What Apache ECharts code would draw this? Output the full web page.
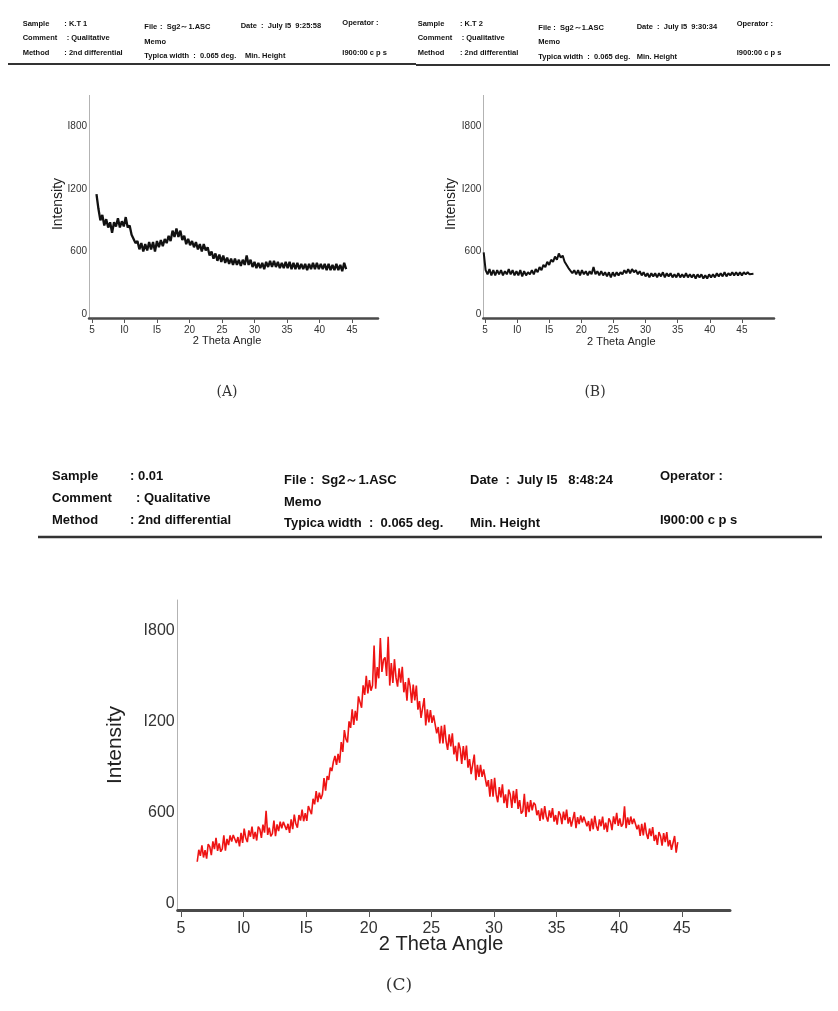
<!DOCTYPE html>
<html>
<head>
<meta charset="utf-8">
<script src="https://cdn.jsdelivr.net/npm/echarts@6/dist/echarts.min.js"></script>
<style>
  html, body { margin: 0; padding: 0; background: #fff; }
  #chart { width: 838px; height: 1011px; }
</style>
</head>
<body>
<div id="chart"></div>
<script>
const startA = 5.7, stepA = 0.3;
const intensityA = [
  1150, 1010, 900, 950, 850, 910, 830, 880, 780, 880, 840, 920, 830, 890, 840, 930,
  830, 850, 760, 760, 680, 700, 620, 680, 600, 670, 610, 690, 620, 690, 600, 700,
  640, 710, 650, 720, 680, 750, 700, 800, 740, 820, 740, 800, 710, 750, 670, 720,
  660, 700, 640, 690, 620, 670, 600, 670, 610, 640, 560, 600, 530, 580, 510, 570,
  500, 560, 490, 540, 480, 530, 470, 530, 470, 520, 460, 520, 470, 560, 470, 520,
  450, 500, 440, 490, 440, 490, 430, 500, 450, 510, 450, 510, 450, 500, 440, 490,
  440, 500, 440, 500, 430, 490, 430, 490, 430, 480, 430, 480, 420, 480, 430, 490,
  430, 490, 430, 480, 430, 480, 420, 480, 420, 470, 420, 480, 420, 470, 410, 490, 430
];

const startB = 4.8, stepB = 0.3;
const intensityB = [
  590, 420, 380, 430, 370, 420, 370, 420, 380, 420, 370, 410, 380, 430, 380, 420,
  370, 410, 370, 420, 360, 410, 370, 400, 380, 420, 380, 430, 400, 450, 420, 470,
  450, 500, 470, 520, 500, 550, 520, 580, 540, 560, 500, 490, 440, 440, 390, 420,
  380, 420, 370, 420, 380, 410, 370, 410, 380, 450, 380, 410, 370, 410, 370, 400,
  360, 400, 350, 400, 360, 400, 370, 400, 380, 420, 390, 430, 390, 430, 400, 420,
  380, 410, 370, 400, 360, 390, 350, 390, 360, 390, 350, 390, 360, 400, 350, 390,
  360, 390, 350, 380, 350, 390, 350, 380, 350, 390, 350, 380, 350, 380, 340, 380,
  350, 380, 340, 370, 340, 380, 350, 380, 350, 390, 360, 390, 360, 400, 360, 390,
  370, 400, 370, 400, 370, 400, 370, 400, 380, 400, 380, 395, 385
];

const startC = 6.3, stepC = 0.125;
const intensityC = [
  275, 354, 314, 383, 303, 352, 296, 391,   375, 319, 409, 358, 433, 347, 396, 341,
  360, 449, 348, 426, 385, 449, 408, 451,   460, 399, 438, 376, 465, 399, 493, 431,
  405, 482, 440, 507, 425, 472, 415, 507,   490, 432, 520, 467, 610, 452, 500, 442,
  460, 547, 444, 521, 477, 539, 496, 538,   545, 485, 525, 465, 555, 490, 585, 525,
  500, 583, 546, 619, 542, 595, 544, 642,   630, 588, 690, 653, 740, 668, 730, 688,
  720, 826, 743, 839, 815, 896, 873, 934,   972, 914, 986, 927, 1064, 999, 1143, 1085,
  1062, 1200, 1157, 1280, 1177, 1270, 1205, 1365,   1360, 1290, 1437, 1375, 1500, 1385, 1472, 1402,
  1436, 1700, 1415, 1558, 1484, 1750, 1526, 1606,   1622, 1500, 1758, 1436, 1584, 1453, 1610, 1488,
  1429, 1550, 1455, 1559, 1392, 1459, 1337, 1486,   1432, 1321, 1442, 1339, 1436, 1277, 1334, 1223,
  1232, 1354, 1173, 1279, 1193, 1275, 1190, 1240,   1230, 1121, 1163, 1054, 1170, 1054, 1178, 1069,
  1012, 1114, 1035, 1121, 982, 1039, 938, 1061,   1020, 920, 1037, 945, 1040, 895, 952, 852,
  865, 981, 813, 913, 835, 914, 835, 883,   880, 771, 813, 704, 820, 704, 828, 719,
  667, 767, 699, 785, 661, 719, 630, 751,   718, 629, 743, 661, 754, 623, 681, 592,
  608, 722, 570, 670, 602, 681, 613, 664,   650, 582, 614, 545, 627, 554, 641, 573,
  540, 613, 565, 628, 540, 583, 520, 608,   585, 523, 606, 549, 618, 526, 569, 507,
  520, 603, 496, 569, 523, 581, 534, 572,   575, 509, 543, 476, 560, 489, 578, 511,
  480, 554, 509, 573, 487, 532, 471, 561,   540, 484, 574, 523, 598, 512, 561, 506,
  525, 640, 496, 567, 518, 573, 524, 559,   560, 489, 518, 446, 525, 449, 533, 461,
  425, 494, 444, 503, 412, 452, 386, 471,   445, 381, 463, 404, 470, 376, 418, 354,
  365, 445, 335, 405
];

const thetaTicks = [5, 10, 15, 20, 25, 30, 35, 40, 45];
const intensityTicks = [0, 600, 1200, 1800];
// the scans print "I" in place of "1"
const thetaLabels = { 5: '5', 10: 'I0', 15: 'I5', 20: '20', 25: '25', 30: '30', 35: '35', 40: '40', 45: '45' };
const intensityLabels = { 0: '0', 600: '600', 1200: 'I200', 1800: 'I800' };

const FONT = '"Liberation Sans", Arial, sans-serif';

function toPoints(start, step, values) {
  return values.map((v, i) => [+(start + i * step).toFixed(3), v]);
}

function xAxisFor(gridIndex, min, max, fontSize, lineWidth, tickLen, margin) {
  return {
    type: 'value', gridIndex, min, max,
    axisLine: { onZero: false, lineStyle: { color: '#4a4a4a', width: lineWidth } },
    axisTick: { customValues: thetaTicks, length: tickLen, lineStyle: { color: '#555', width: 1 } },
    axisLabel: {
      customValues: thetaTicks, formatter: v => thetaLabels[v],
      fontSize, fontFamily: FONT, color: '#333', margin
    },
    splitLine: { show: false }
  };
}

function yAxisFor(gridIndex, min, max, fontSize, margin) {
  return {
    type: 'value', gridIndex, min, max,
    axisLine: { show: true, lineStyle: { color: '#b3b3b3', width: 1 } },
    axisTick: { show: false },
    axisLabel: {
      customValues: intensityTicks, formatter: v => intensityLabels[v],
      fontSize, fontFamily: FONT, color: '#333', margin
    },
    splitLine: { show: false }
  };
}

function txt(text, x, y, size, extra) {
  return {
    type: 'text', x, y, silent: true,
    rotation: (extra && extra.rotation) || 0,
    style: Object.assign({
      text, fontSize: size, fontFamily: FONT, fontWeight: 'bold', fill: '#111',
      verticalAlign: 'middle', align: 'left'
    }, extra && extra.style)
  };
}

function rule(x1, x2, y, w) {
  return { type: 'line', silent: true, shape: { x1, y1: y, x2, y2: y }, style: { stroke: '#333', lineWidth: w } };
}

const hs = 7.5;
const headerA = [
  txt('Sample', 22.7, 24, hs), txt(': K.T 1', 64.3, 24, hs),
  txt('Comment', 22.7, 38, hs), txt(': Qualitative', 66.7, 38, hs),
  txt('Method', 22.7, 53, hs), txt(': 2nd differential', 64.3, 53, hs),
  txt('File', 144.3, 26.7, hs), txt(':  Sg2～1.ASC', 160, 26.7, hs),
  txt('Memo', 144.3, 41.7, hs), txt('Typica width  :  0.065 deg.', 144.3, 55.7, hs),
  txt('Date  :  July I5  9:25:58', 240.7, 26, hs), txt('Min. Height', 245, 55.7, hs),
  txt('Operator :', 342.3, 23, hs), txt('I900:00 c p s', 342.3, 53.3, hs),
  rule(8, 416, 64, 2)
];
const headerB = [
  txt('Sample', 417.7, 24, hs), txt(': K.T 2', 460, 24, hs),
  txt('Comment', 417.7, 38, hs), txt(': Qualitative', 461.7, 38, hs),
  txt('Method', 417.7, 52.7, hs), txt(': 2nd differential', 460, 52.7, hs),
  txt('File', 538.3, 28, hs), txt(':  Sg2～1.ASC', 553.3, 28, hs),
  txt('Memo', 538.3, 42, hs), txt('Typica width  :  0.065 deg.', 538.3, 56.7, hs),
  txt('Date  :  July I5  9:30:34', 636.7, 27.3, hs), txt('Min. Height', 636.7, 56.7, hs),
  txt('Operator :', 736.7, 24, hs), txt('I900:00 c p s', 736.7, 52.7, hs),
  rule(416, 830, 65, 2)
];
const cs = 13;
const headerC = [
  txt('Sample', 52, 476, cs), txt(': 0.01', 130, 476, cs),
  txt('Comment', 52, 498, cs), txt(': Qualitative', 136, 498, cs),
  txt('Method', 52, 520, cs), txt(': 2nd differential', 130, 520, cs),
  txt('File', 284, 480, cs), txt(':  Sg2～1.ASC', 310, 480, cs),
  txt('Memo', 284, 502, cs), txt('Typica width  :  0.065 deg.', 284, 523, cs),
  txt('Date  :  July I5   8:48:24', 470, 480, cs), txt('Min. Height', 470, 523, cs),
  txt('Operator :', 660, 476, cs), txt('I900:00 c p s', 660, 520, cs),
  rule(38, 822, 537, 2.5)
];

const plain = { fontWeight: 'normal', fill: '#222', align: 'center' };
const names = [
  txt('Intensity', 57.8, 204, 14, { rotation: Math.PI / 2, style: plain }),
  txt('2 Theta Angle', 227, 341, 11, { style: plain }),
  txt('Intensity', 451, 204, 14, { rotation: Math.PI / 2, style: plain }),
  txt('2 Theta Angle', 621.3, 341.7, 11, { style: plain }),
  txt('Intensity', 115, 745, 21, { rotation: Math.PI / 2, style: plain }),
  txt('2 Theta Angle', 441, 944, 20, { style: plain })
];
const serif = { fontFamily: '"DejaVu Serif", serif', fontWeight: 'normal', fill: '#333', align: 'center' };
const panelTags = [
  txt('(A)', 227, 392, 14, { style: serif }),
  txt('(B)', 595, 392, 14, { style: serif }),
  txt('(C)', 399, 986, 17, { style: serif })
];

const chart = echarts.init(document.getElementById('chart'));
chart.setOption({
  animation: false,
  backgroundColor: '#fff',
  grid: [
    { left: 89, top: 95.4, width: 289, height: 222.6, outerBoundsMode: 'none' },
    { left: 483.3, top: 95.4, width: 290.7, height: 222.6, outerBoundsMode: 'none' },
    { left: 177.7, top: 600, width: 552.3, height: 310, outerBoundsMode: 'none' }
  ],
  xAxis: [
    xAxisFor(0, 4.55, 49, 10, 2.5, 5, 7),
    xAxisFor(1, 4.74, 50, 10, 2.5, 5, 7),
    xAxisFor(2, 4.74, 48.85, 16, 3, 7, 11)
  ],
  yAxis: [
    yAxisFor(0, -40, 2100, 10, 2),
    yAxisFor(1, -40, 2100, 10, 2),
    yAxisFor(2, -43, 2000, 16, 3)
  ],
  series: [
    { type: 'line', xAxisIndex: 0, yAxisIndex: 0, data: toPoints(startA, stepA, intensityA),
      symbol: 'none', lineStyle: { color: '#111', width: 2.3 } },
    { type: 'line', xAxisIndex: 1, yAxisIndex: 1, data: toPoints(startB, stepB, intensityB),
      symbol: 'none', lineStyle: { color: '#111', width: 2 } },
    { type: 'line', xAxisIndex: 2, yAxisIndex: 2, data: toPoints(startC, stepC, intensityC),
      symbol: 'none', lineStyle: { color: '#ee1414', width: 1.6 } }
  ],
  graphic: [].concat(headerA, headerB, headerC, names, panelTags)
});
</script>
</body>
</html>
